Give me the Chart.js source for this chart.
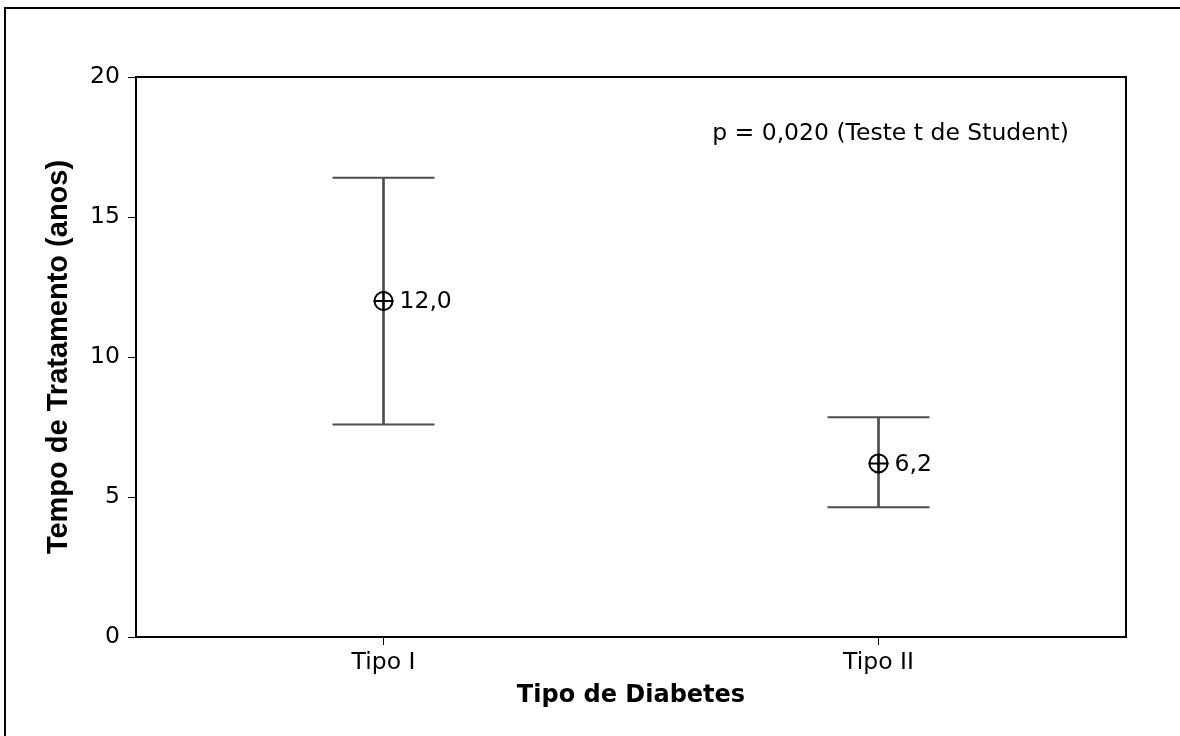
<!DOCTYPE html>
<html>
<head>
<meta charset="utf-8">
<script src="https://cdn.jsdelivr.net/npm/chart.js@4/dist/chart.umd.min.js"></script>
<style>
html,body{margin:0;padding:0;background:#fff;}
#wrap{width:1180px;height:736px;position:relative;}
</style>
</head>
<body>
<div id="wrap"><canvas id="c" width="1180" height="736"></canvas></div>
<script>
const categories = ['Tipo I', 'Tipo II'];
const means = [12.0, 6.2];
const upper = [16.4, 7.85];
const lower = [7.59, 4.63];
const meanLabels = ['12,0', '6,2'];
const yTicks = [0, 5, 10, 15, 20];
const annotationText = 'p = 0,020 (Teste t de Student)';

const REG = '"DejaVu Sans", Verdana, sans-serif';
const barColor = '#4d4d4d';

const framePlugin = {
  id: 'frame',
  beforeDraw(chart) {
    const ctx = chart.ctx;
    ctx.save();
    ctx.fillStyle = '#fff';
    ctx.fillRect(0, 0, chart.width, chart.height);
    ctx.strokeStyle = '#000';
    ctx.lineWidth = 2;
    ctx.beginPath();
    ctx.moveTo(5, 736);
    ctx.lineTo(5, 8);
    ctx.lineTo(1180, 8);
    ctx.stroke();
    ctx.restore();
  },
  afterDraw(chart) {
    const ctx = chart.ctx;
    const a = chart.chartArea;
    ctx.save();
    ctx.strokeStyle = '#000';
    ctx.lineWidth = 2;
    ctx.strokeRect(a.left, a.top, a.right - a.left, a.bottom - a.top);
    const meta = chart.getDatasetMeta(3);
    ctx.fillStyle = '#000';
    ctx.font = '23.5px ' + REG;
    ctx.textBaseline = 'middle';
    ctx.textAlign = 'left';
    meta.data.forEach((pt, i) => {
      ctx.fillText(meanLabels[i], pt.x + 16, pt.y + 1);
    });
    ctx.textAlign = 'right';
    ctx.fillText(annotationText, a.right - 57, a.top + 57);
    ctx.restore();
  }
};

new Chart(document.getElementById('c'), {
  data: {
    labels: categories,
    datasets: [
      {
        type: 'bar',
        data: categories.map((c, i) => [lower[i], upper[i]]),
        backgroundColor: barColor,
        barThickness: 2,
        borderWidth: 0,
        order: 5
      },
      {
        type: 'line',
        data: upper,
        showLine: false,
        pointStyle: 'line',
        pointRadius: 51,
        pointHoverRadius: 51,
        pointBorderColor: barColor,
        pointBorderWidth: 2,
        order: 4
      },
      {
        type: 'line',
        data: lower,
        showLine: false,
        pointStyle: 'line',
        pointRadius: 51,
        pointHoverRadius: 51,
        pointBorderColor: barColor,
        pointBorderWidth: 2,
        order: 3
      },
      {
        type: 'line',
        data: means,
        showLine: false,
        pointStyle: 'circle',
        pointRadius: 9,
        pointBackgroundColor: 'rgba(0,0,0,0)',
        pointBorderColor: '#000',
        pointBorderWidth: 2,
        order: 1
      },
      {
        type: 'line',
        data: means,
        showLine: false,
        pointStyle: 'cross',
        pointRadius: 10,
        pointBorderColor: '#000',
        pointBorderWidth: 2,
        order: 2
      }
    ]
  },
  options: {
    responsive: false,
    animation: false,
    events: [],
    layout: { padding: { left: 0, top: 77, right: 54, bottom: 0 } },
    plugins: { legend: { display: false }, tooltip: { enabled: false } },
    scales: {
      x: {
        type: 'category',
        offset: true,
        grid: { drawOnChartArea: false, drawTicks: true, tickLength: 8, color: '#000', lineWidth: 1, offset: false },
        border: { display: true, color: '#000', width: 2 },
        ticks: { color: '#000', font: { family: REG, size: 23.5 }, padding: 4 },
        title: { display: true, text: 'Tipo de Diabetes', color: '#000', font: { family: REG, size: 24, weight: 'bold' }, padding: { top: 0, bottom: 26 } },
        afterFit(s) { s.height = 99; }
      },
      y: {
        min: 0, max: 20,
        afterBuildTicks(s) { s.ticks = yTicks.map(v => ({ value: v })); },
        grid: { drawOnChartArea: false, drawTicks: true, tickLength: 8, color: '#000', lineWidth: 1 },
        border: { display: true, color: '#000', width: 2 },
        ticks: { color: '#000', font: { family: REG, size: 23.5 }, padding: 8 },
        title: { display: true, text: 'Tempo de Tratamento (anos)', color: '#000', font: { family: '"Liberation Sans", Arial, sans-serif', size: 29, weight: 'bold' }, padding: { top: 42, bottom: 0 } },
        afterFit(s) { s.width = 136; }
      }
    }
  },
  plugins: [framePlugin]
});
</script>
</body>
</html>
